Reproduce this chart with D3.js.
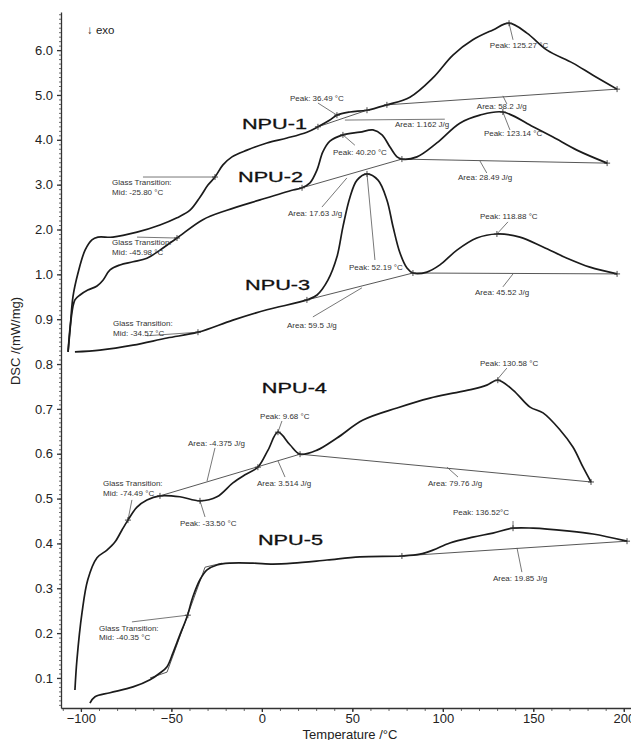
<!DOCTYPE html>
<html>
<head>
<meta charset="utf-8">
<script src="https://cdn.jsdelivr.net/npm/d3@7/dist/d3.min.js"></script>
<style>
    body { margin: 0; background: #fff; }
    svg { display: block; font-family: "Liberation Sans", Arial, sans-serif; }
    .curve { fill: none; stroke: #1b1b1b; stroke-width: 1.7; }
    .baseline { fill: none; stroke: #444; stroke-width: 0.9; }
    .leader { stroke: #555; stroke-width: 0.8; }
    .mark { stroke: #333; stroke-width: 0.9; }
    .note { font-size: 8px; fill: #333; }
    .sample { font-size: 14px; fill: #111; stroke: #111; stroke-width: 0.3; }
    .axis path, .axis line { stroke: #333; stroke-width: 1.3; }
    .axis text { font-size: 13px; fill: #222; }
    .minor path { display: none; }
    .minor line { stroke: #444; stroke-width: 0.8; }
</style>
</head>
<body>
<div class="chart-main"></div>
<script>

//////////
// DATA //
//////////

// y axis is not linear: labels sit at rows 1..15
var yTickLabels = ['0.1', '0.2', '0.3', '0.4', '0.5', '0.6', '0.7', '0.8', '0.9',
    '1.0', '2.0', '3.0', '4.0', '5.0', '6.0'];
var xTickValues = [-100, -50, 0, 50, 100, 150, 200];

// curves as [temperature, axis row]
var npu1 = [[-107.1, 8.27], [-106.0, 8.76], [-104.4, 9.50], [-101.6, 10.03], [-97.7, 10.54], [-93.9, 10.77],
    [-90.6, 10.83], [-82.3, 10.83], [-69.0, 10.94], [-56.3, 11.10], [-46.9, 11.26], [-39.7, 11.43],
    [-34.2, 11.72], [-29.8, 11.99], [-25.9, 12.17], [-21.5, 12.44], [-16.5, 12.62], [-8.2, 12.77],
    [2.8, 12.93], [13.9, 13.04], [24.9, 13.17], [31.0, 13.29], [37.6, 13.44], [41.5, 13.55],
    [48.7, 13.62], [58.1, 13.66], [69.1, 13.78], [81.8, 13.95], [94.5, 14.38], [105.6, 14.89],
    [116.6, 15.23], [127.7, 15.45], [136.6, 15.60], [146.5, 15.38], [157.6, 15.00], [171.9, 14.71],
    [183.0, 14.44], [196.3, 14.13]];

var npu2 = [[-107.1, 8.27], [-105.5, 8.98], [-103.3, 9.43], [-100.5, 9.54], [-96.2, 9.65], [-91.1, 9.74],
    [-87.8, 9.87], [-83.9, 10.10], [-78.4, 10.21], [-71.2, 10.28], [-63.5, 10.36], [-56.3, 10.54],
    [-46.9, 10.81], [-32.6, 11.22], [-19.3, 11.43], [-1.0, 11.66], [17.2, 11.88], [22.2, 11.93],
    [26.6, 12.04], [30.5, 12.33], [33.7, 12.73], [37.6, 12.97], [44.8, 13.11], [54.2, 13.17],
    [61.4, 13.22], [66.4, 13.11], [70.8, 12.84], [74.7, 12.62], [77.4, 12.57], [85.7, 12.62],
    [96.7, 12.93], [109.4, 13.37], [120.5, 13.55], [133.2, 13.62], [149.9, 13.29], [160.9, 13.06],
    [174.1, 12.77], [190.8, 12.48]];

var npu3 = [[-103.3, 8.27], [-89.5, 8.31], [-71.2, 8.42], [-52.4, 8.58], [-35.3, 8.71], [-16.0, 8.98],
    [2.8, 9.21], [24.9, 9.43], [30.5, 9.54], [36.5, 9.87], [41.5, 10.39], [44.8, 11.06], [48.7, 11.72],
    [52.6, 12.10], [58.1, 12.24], [64.2, 12.10], [69.1, 11.66], [72.5, 11.06], [76.3, 10.48],
    [80.2, 10.14], [83.5, 10.03], [91.2, 10.05], [98.4, 10.21], [107.8, 10.54], [118.8, 10.81],
    [129.9, 10.90], [142.6, 10.83], [155.4, 10.61], [168.6, 10.36], [181.3, 10.16], [196.3, 10.01]];

var npu4 = [[-103.3, 0.73], [-102.2, 1.40], [-99.4, 2.45], [-96.2, 3.19], [-91.1, 3.68], [-85.6, 3.85],
    [-81.2, 4.03], [-77.3, 4.30], [-74.0, 4.52], [-69.0, 4.81], [-63.5, 4.97], [-56.3, 5.06],
    [-45.3, 5.04], [-34.2, 4.95], [-24.8, 5.04], [-16.0, 5.35], [-9.3, 5.53], [-2.2, 5.70],
    [3.4, 6.08], [8.9, 6.48], [15.5, 6.20], [21.1, 5.99], [30.5, 6.08], [41.5, 6.35], [55.9, 6.75],
    [74.7, 7.02], [92.9, 7.24], [105.6, 7.35], [116.6, 7.44], [124.3, 7.53], [130.4, 7.64],
    [138.8, 7.42], [148.2, 7.04], [155.4, 6.91], [164.8, 6.53], [171.9, 6.15], [177.5, 5.70],
    [181.9, 5.37]];

var npu5 = [[-95.0, 0.44], [-92.2, 0.58], [-83.9, 0.67], [-71.2, 0.80], [-61.8, 0.96], [-56.3, 1.11],
    [-52.4, 1.25], [-49.1, 1.56], [-45.3, 1.96], [-41.4, 2.36], [-38.1, 2.81], [-34.2, 3.19],
    [-30.3, 3.41], [-24.8, 3.52], [-17.6, 3.56], [-4.9, 3.56], [6.1, 3.54], [17.2, 3.56], [36.0, 3.63],
    [54.2, 3.70], [77.4, 3.72], [87.4, 3.76], [94.5, 3.85], [103.9, 4.01], [116.6, 4.14],
    [127.7, 4.23], [138.8, 4.34], [149.9, 4.34], [168.6, 4.28], [183.0, 4.21], [201.8, 4.05]];

// "+" marks left by the evaluation software
var evalMarks = [
    [-25.9, 12.17], [31.0, 13.29], [41.5, 13.55], [58.1, 13.66], [69.1, 13.78], [136.6, 15.60], [196.3, 14.13],
    [-46.9, 10.81], [22.2, 11.93], [44.8, 13.11], [77.4, 12.57], [133.2, 13.62], [190.8, 12.48],
    [-35.3, 8.71], [24.9, 9.43], [58.1, 12.24], [83.5, 10.03], [129.9, 10.90], [196.3, 10.01],
    [-74.0, 4.52], [-56.3, 5.06], [-34.2, 4.95], [-2.2, 5.70], [8.9, 6.48], [21.1, 5.99], [130.4, 7.64], [181.9, 5.37],
    [-40.9, 2.40], [77.4, 3.72], [138.8, 4.34], [201.8, 4.05]
];

// integration baselines and tangents
var baselines = [
    [[31.0, 13.29], [58.1, 13.66]],
    [[69.1, 13.78], [196.3, 14.13]],
    [[22.2, 11.93], [77.4, 12.57]],
    [[77.4, 12.57], [190.8, 12.48]],
    [[24.9, 9.43], [83.5, 10.03]],
    [[83.5, 10.03], [196.3, 10.01]],
    [[-56.3, 5.06], [21.1, 5.99]],
    [[21.1, 5.99], [181.9, 5.37]],
    [[77.4, 3.72], [201.8, 4.05]],
    [[-61.8, 1.00], [-52.4, 1.13], [-31.4, 3.47], [-22.0, 3.56]]
];

var notes = [
    ['Peak: 36.49 °C', 15.5, 13.87],
    ['Peak: 125.27 °C', 126.0, 15.05],
    ['Area: 1.162 J/g', 73.6, 13.29],
    ['Area: 58.2 J/g', 118.8, 13.69],
    ['Peak: 123.14 °C', 122.7, 13.08],
    ['Peak: 40.20 °C', 39.3, 12.66],
    ['Area: 28.49 J/g', 108.4, 12.10],
    ['Area: 17.63 J/g', 14.4, 11.30],
    ['Peak: 52.19 °C', 48.1, 10.10],
    ['Area: 59.5 J/g', 13.9, 8.80],
    ['Peak: 118.88 °C', 120.5, 11.23],
    ['Area: 45.52 J/g', 117.8, 9.54],
    ['Peak: 130.58 °C', 120.5, 7.96],
    ['Peak: 9.68 °C', -1.0, 6.77],
    ['Area: -4.375 J/g', -40.8, 6.17],
    ['Area: 3.514 J/g', -2.7, 5.28],
    ['Area: 79.76 J/g', 91.8, 5.28],
    ['Peak: -33.50 °C', -45.3, 4.39],
    ['Peak: 136.52°C', 105.6, 4.63],
    ['Area: 19.85 J/g', 127.7, 3.16]
];

var tgNotes = [
    ['Mid: -25.80 °C', -82.8, 11.99],
    ['Mid: -45.98 °C', -82.8, 10.65],
    ['Mid: -34.57 °C', -82.2, 8.85],
    ['Mid: -74.49 °C', -87.8, 5.28],
    ['Mid: -40.35 °C', -90.0, 2.05]
];

var leaders = [
    [[41.5, 13.55], [31.0, 13.82]], [[136.6, 15.60], [138.8, 15.23]], [[45.9, 13.44], [101.1, 13.46]],
    [[133.2, 13.98], [135.4, 13.80]], [[133.2, 13.62], [137.1, 13.22]], [[44.8, 13.11], [51.4, 12.88]],
    [[120.5, 12.53], [124.3, 12.26]], [[47.0, 12.15], [33.2, 11.50]], [[-65.7, 12.17], [-25.9, 12.17]],
    [[-69.0, 10.83], [-46.9, 10.81]], [[58.1, 12.24], [62.5, 10.32]], [[55.3, 9.70], [28.2, 9.05]],
    [[129.9, 10.90], [136.0, 11.17]], [[138.8, 10.01], [133.2, 9.72]], [[-63.5, 8.63], [-35.3, 8.71]],
    [[130.4, 7.67], [135.4, 7.91]], [[8.9, 6.48], [11.1, 6.73]], [[-30.3, 5.39], [-25.9, 6.13]],
    [[8.9, 5.84], [12.8, 5.48]], [[102.3, 5.70], [108.4, 5.48]], [[-71.8, 4.97], [-74.0, 4.52]],
    [[-34.2, 4.95], [-31.4, 4.59]], [[138.8, 4.34], [138.8, 4.50]], [[141.0, 3.90], [143.7, 3.36]],
    [[-71.8, 2.25], [-40.9, 2.40]]
];

var samples = [
    ['NPU-1', -11.0, 13.24],
    ['NPU-2', -13.2, 12.06],
    ['NPU-3', -9.3, 9.65],
    ['NPU-4', 0.0, 7.35],
    ['NPU-5', -2.2, 3.97]
];

var curves = [npu1, npu2, npu3, npu4, npu5];

//////////////////
// CREATING SVG //
//////////////////

var w = 631,
    h = 740;

var mainChart = d3.select('.chart-main')
    .append('svg')
    .attr('width', w)
    .attr('height', h);

////////////
// SCALES //
////////////

var xScale = d3.scaleLinear()
    .domain([-111, 204])
    .range([61, 631]);

var yScale = d3.scaleLinear()
    .domain([0.33, 15.85])
    .range([708, 12]);

//////////
// AXIS //
//////////

var yMinor = d3.axisLeft(yScale)
    .tickValues(d3.range(4, 159).map(function(d) { return d / 10; }))
    .tickSize(2)
    .tickFormat('');

mainChart.append('g')
    .attr('class', 'minor')
    .attr('transform', 'translate(61,0)')
    .call(yMinor);

var xMinor = d3.axisBottom(xScale)
    .tickValues(d3.range(-110, 205, 10))
    .tickSize(3)
    .tickFormat('');

mainChart.append('g')
    .attr('class', 'minor')
    .attr('transform', 'translate(0,708)')
    .call(xMinor);

var yAxis = d3.axisLeft(yScale)
    .tickValues(d3.range(1, 16))
    .tickFormat(function(d) { return yTickLabels[d - 1]; })
    .tickSize(4)
    .tickSizeOuter(0)
    .tickPadding(4);

mainChart.append('g')
    .attr('class', 'axis')
    .attr('transform', 'translate(61,0)')
    .call(yAxis);

var xAxis = d3.axisBottom(xScale)
    .tickValues(xTickValues)
    .tickSize(4)
    .tickSizeOuter(0)
    .tickPadding(2);

mainChart.append('g')
    .attr('class', 'axis')
    .attr('transform', 'translate(0,708)')
    .call(xAxis);

mainChart.append('text')
    .attr('transform', 'translate(20,341) rotate(-90)')
    .attr('text-anchor', 'middle')
    .style('font-size', '13px')
    .style('fill', '#222')
    .text('DSC /(mW/mg)');

mainChart.append('text')
    .attr('x', 350)
    .attr('y', 738.5)
    .attr('text-anchor', 'middle')
    .style('font-size', '13px')
    .style('fill', '#222')
    .text('Temperature /°C');

mainChart.append('text')
    .attr('x', 87)
    .attr('y', 34)
    .style('font-size', '11.5px')
    .style('fill', '#222')
    .text('↓ exo');

///////////////////////
// BASELINES/LEADERS //
///////////////////////

var line = d3.line()
    .x(function(d) { return xScale(d[0]); })
    .y(function(d) { return yScale(d[1]); });

mainChart.selectAll('.baseline')
    .data(baselines)
    .enter()
    .append('path')
    .attr('class', 'baseline')
    .attr('d', line);

mainChart.selectAll('.leader')
    .data(leaders)
    .enter()
    .append('line')
    .attr('class', 'leader')
    .attr('x1', function(d) { return xScale(d[0][0]); })
    .attr('y1', function(d) { return yScale(d[0][1]); })
    .attr('x2', function(d) { return xScale(d[1][0]); })
    .attr('y2', function(d) { return yScale(d[1][1]); });

////////////
// CURVES //
////////////

var curveLine = d3.line()
    .x(function(d) { return xScale(d[0]); })
    .y(function(d) { return yScale(d[1]); })
    .curve(d3.curveCatmullRom.alpha(0.5));

mainChart.selectAll('.curve')
    .data(curves)
    .enter()
    .append('path')
    .attr('class', 'curve')
    .attr('d', curveLine);

var mark = mainChart.selectAll('.markG')
    .data(evalMarks)
    .enter()
    .append('g')
    .attr('class', 'markG')
    .attr('transform', function(d) { return 'translate(' + xScale(d[0]) + ',' + yScale(d[1]) + ')'; });

mark.append('line').attr('class', 'mark').attr('x1', -3).attr('x2', 3);
mark.append('line').attr('class', 'mark').attr('y1', -3).attr('y2', 3);

///////////
// TEXTS //
///////////

mainChart.selectAll('.noteText')
    .data(notes)
    .enter()
    .append('text')
    .attr('class', 'note')
    .attr('x', function(d) { return xScale(d[1]); })
    .attr('y', function(d) { return yScale(d[2]); })
    .text(function(d) { return d[0]; });

var tg = mainChart.selectAll('.tgText')
    .data(tgNotes)
    .enter()
    .append('text')
    .attr('class', 'note')
    .attr('x', function(d) { return xScale(d[1]); })
    .attr('y', function(d) { return yScale(d[2]); });

tg.append('tspan')
    .text('Glass Transition:');

tg.append('tspan')
    .attr('x', function(d) { return xScale(d[1]); })
    .attr('dy', '1.2em')
    .text(function(d) { return d[0]; });

mainChart.selectAll('.sample')
    .data(samples)
    .enter()
    .append('text')
    .attr('class', 'sample')
    .attr('transform', function(d) { return 'translate(' + xScale(d[1]) + ',' + yScale(d[2]) + ') scale(1.55,1)'; })
    .text(function(d) { return d[0]; });

</script>
</body>
</html>
